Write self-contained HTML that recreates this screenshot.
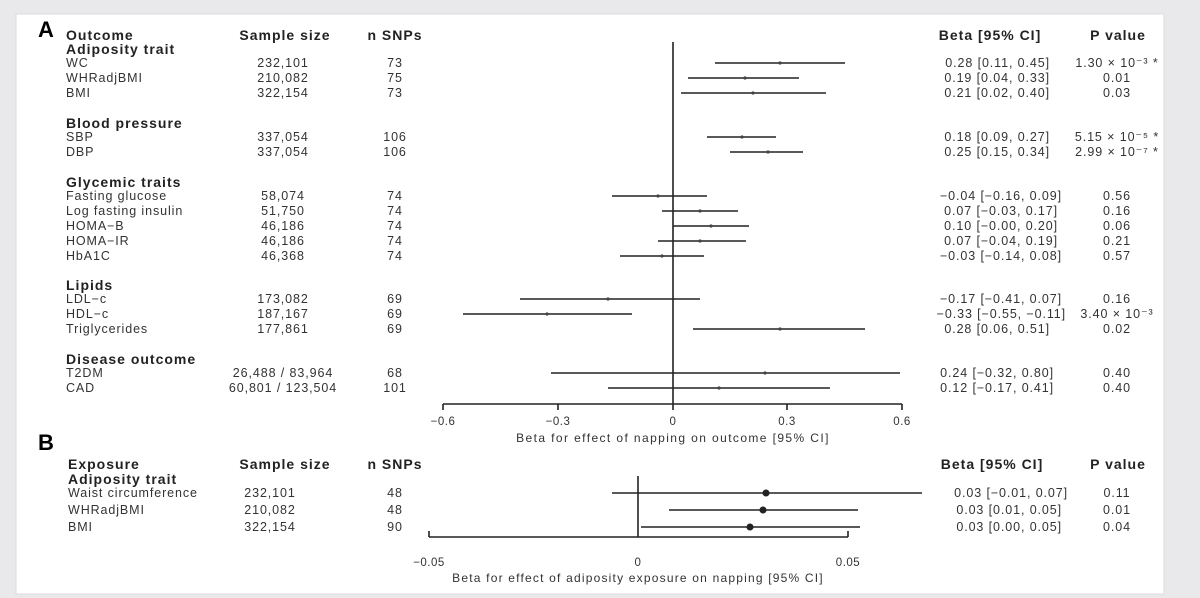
<!DOCTYPE html>
<html><head><meta charset="utf-8"><style>
html,body{margin:0;padding:0;background:#e9e9eb;}
svg{display:block;font-family:"Liberation Sans",sans-serif;}
.h{font-weight:bold;font-size:14px;fill:#222;letter-spacing:1px}
.t{font-size:12.5px;fill:#333;letter-spacing:0.9px}
.c{text-anchor:middle}
.e{text-anchor:end}
</style></head><body>
<svg width="1200" height="598" viewBox="0 0 1200 598">
<rect x="16" y="14" width="1148" height="580" fill="#fff" stroke="#dcdce0"/>
<g stroke="#222" stroke-width="1.6" fill="none">
<line x1="673" y1="42" x2="673" y2="404"/>
<line x1="443" y1="404" x2="902" y2="404"/>
<line x1="443" y1="404" x2="443" y2="410"/><line x1="558" y1="404" x2="558" y2="410"/><line x1="673" y1="404" x2="673" y2="410"/><line x1="787" y1="404" x2="787" y2="410"/><line x1="902" y1="404" x2="902" y2="410"/>
<line x1="715" y1="63" x2="845" y2="63"/>
<line x1="688" y1="78" x2="799" y2="78"/>
<line x1="681" y1="93" x2="826" y2="93"/>
<line x1="707" y1="137" x2="776" y2="137"/>
<line x1="730" y1="152" x2="803" y2="152"/>
<line x1="612" y1="196" x2="707" y2="196"/>
<line x1="662" y1="211" x2="738" y2="211"/>
<line x1="673" y1="226" x2="749" y2="226"/>
<line x1="658" y1="241" x2="746" y2="241"/>
<line x1="620" y1="256" x2="704" y2="256"/>
<line x1="520" y1="299" x2="700" y2="299"/>
<line x1="463" y1="314" x2="632" y2="314"/>
<line x1="693" y1="329" x2="865" y2="329"/>
<line x1="551" y1="373" x2="900" y2="373"/>
<line x1="608" y1="388" x2="830" y2="388"/>
<line x1="638" y1="476" x2="638" y2="537"/>
<line x1="429" y1="537" x2="848" y2="537"/>
<line x1="429" y1="531" x2="429" y2="537"/><line x1="848" y1="531" x2="848" y2="537"/>
<line x1="612" y1="493" x2="922" y2="493"/>
<line x1="669" y1="510" x2="858" y2="510"/>
<line x1="641" y1="527" x2="860" y2="527"/>
</g>
<g fill="#444">
<circle cx="780" cy="63" r="1.6"/><circle cx="745" cy="78" r="1.6"/><circle cx="753" cy="93" r="1.6"/>
<circle cx="742" cy="137" r="1.6"/><circle cx="768" cy="152" r="1.6"/>
<circle cx="658" cy="196" r="1.6"/><circle cx="700" cy="211" r="1.6"/><circle cx="711" cy="226" r="1.6"/><circle cx="700" cy="241" r="1.6"/><circle cx="662" cy="256" r="1.6"/>
<circle cx="608" cy="299" r="1.6"/><circle cx="547" cy="314" r="1.6"/><circle cx="780" cy="329" r="1.6"/>
<circle cx="765" cy="373" r="1.6"/><circle cx="719" cy="388" r="1.6"/>
<circle cx="766" cy="493" r="3.5" fill="#222"/><circle cx="763" cy="510" r="3.5" fill="#222"/><circle cx="750" cy="527" r="3.5" fill="#222"/>
</g>
<text x="38" y="37" style="font-size:22px;font-weight:bold">A</text>
<text x="38" y="450" style="font-size:22px;font-weight:bold">B</text>
<g class="h">
<text x="66" y="40">Outcome</text><text x="285" y="40" class="c">Sample size</text><text x="395" y="40" class="c">n SNPs</text><text x="990" y="40" class="c">Beta [95% CI]</text><text x="1118" y="40" class="c">P value</text>
<text x="66" y="54">Adiposity trait</text>
<text x="66" y="128">Blood pressure</text>
<text x="66" y="187">Glycemic traits</text>
<text x="66" y="290">Lipids</text>
<text x="66" y="364">Disease outcome</text>
<text x="68" y="469">Exposure</text><text x="285" y="469" class="c">Sample size</text><text x="395" y="469" class="c">n SNPs</text><text x="992" y="469" class="c">Beta [95% CI]</text><text x="1118" y="469" class="c">P value</text>
<text x="68" y="484">Adiposity trait</text>
</g>
<g class="t">
<text x="66" y="67">WC</text><text x="283" y="67" class="c">232,101</text><text x="395" y="67" class="c">73</text><text x="1050" y="67" class="e">0.28 [0.11, 0.45]</text><text x="1117" y="67" class="c">1.30 × 10⁻³ *</text>
<text x="66" y="82">WHRadjBMI</text><text x="283" y="82" class="c">210,082</text><text x="395" y="82" class="c">75</text><text x="1050" y="82" class="e">0.19 [0.04, 0.33]</text><text x="1117" y="82" class="c">0.01</text>
<text x="66" y="97">BMI</text><text x="283" y="97" class="c">322,154</text><text x="395" y="97" class="c">73</text><text x="1050" y="97" class="e">0.21 [0.02, 0.40]</text><text x="1117" y="97" class="c">0.03</text>
<text x="66" y="141">SBP</text><text x="283" y="141" class="c">337,054</text><text x="395" y="141" class="c">106</text><text x="1050" y="141" class="e">0.18 [0.09, 0.27]</text><text x="1117" y="141" class="c">5.15 × 10⁻⁵ *</text>
<text x="66" y="156">DBP</text><text x="283" y="156" class="c">337,054</text><text x="395" y="156" class="c">106</text><text x="1050" y="156" class="e">0.25 [0.15, 0.34]</text><text x="1117" y="156" class="c">2.99 × 10⁻⁷ *</text>
<text x="66" y="200">Fasting glucose</text><text x="283" y="200" class="c">58,074</text><text x="395" y="200" class="c">74</text><text x="1062" y="200" class="e">−0.04 [−0.16, 0.09]</text><text x="1117" y="200" class="c">0.56</text>
<text x="66" y="215">Log fasting insulin</text><text x="283" y="215" class="c">51,750</text><text x="395" y="215" class="c">74</text><text x="1058" y="215" class="e">0.07 [−0.03, 0.17]</text><text x="1117" y="215" class="c">0.16</text>
<text x="66" y="230">HOMA−B</text><text x="283" y="230" class="c">46,186</text><text x="395" y="230" class="c">74</text><text x="1058" y="230" class="e">0.10 [−0.00, 0.20]</text><text x="1117" y="230" class="c">0.06</text>
<text x="66" y="245">HOMA−IR</text><text x="283" y="245" class="c">46,186</text><text x="395" y="245" class="c">74</text><text x="1058" y="245" class="e">0.07 [−0.04, 0.19]</text><text x="1117" y="245" class="c">0.21</text>
<text x="66" y="260">HbA1C</text><text x="283" y="260" class="c">46,368</text><text x="395" y="260" class="c">74</text><text x="1062" y="260" class="e">−0.03 [−0.14, 0.08]</text><text x="1117" y="260" class="c">0.57</text>
<text x="66" y="303">LDL−c</text><text x="283" y="303" class="c">173,082</text><text x="395" y="303" class="c">69</text><text x="1062" y="303" class="e">−0.17 [−0.41, 0.07]</text><text x="1117" y="303" class="c">0.16</text>
<text x="66" y="318">HDL−c</text><text x="283" y="318" class="c">187,167</text><text x="395" y="318" class="c">69</text><text x="1066" y="318" class="e">−0.33 [−0.55, −0.11]</text><text x="1117" y="318" class="c">3.40 × 10⁻³</text>
<text x="66" y="333">Triglycerides</text><text x="283" y="333" class="c">177,861</text><text x="395" y="333" class="c">69</text><text x="1050" y="333" class="e">0.28 [0.06, 0.51]</text><text x="1117" y="333" class="c">0.02</text>
<text x="66" y="377">T2DM</text><text x="283" y="377" class="c">26,488 / 83,964</text><text x="395" y="377" class="c">68</text><text x="1054" y="377" class="e">0.24 [−0.32, 0.80]</text><text x="1117" y="377" class="c">0.40</text>
<text x="66" y="392">CAD</text><text x="283" y="392" class="c">60,801 / 123,504</text><text x="395" y="392" class="c">101</text><text x="1054" y="392" class="e">0.12 [−0.17, 0.41]</text><text x="1117" y="392" class="c">0.40</text>
<text x="68" y="497">Waist circumference</text><text x="270" y="497" class="c">232,101</text><text x="395" y="497" class="c">48</text><text x="1068" y="497" class="e">0.03 [−0.01, 0.07]</text><text x="1117" y="497" class="c">0.11</text>
<text x="68" y="514">WHRadjBMI</text><text x="270" y="514" class="c">210,082</text><text x="395" y="514" class="c">48</text><text x="1062" y="514" class="e">0.03 [0.01, 0.05]</text><text x="1117" y="514" class="c">0.01</text>
<text x="68" y="531">BMI</text><text x="270" y="531" class="c">322,154</text><text x="395" y="531" class="c">90</text><text x="1062" y="531" class="e">0.03 [0.00, 0.05]</text><text x="1117" y="531" class="c">0.04</text>
<g style="font-size:11.5px;letter-spacing:0.5px">
<text x="443" y="425" class="c">−0.6</text><text x="558" y="425" class="c">−0.3</text><text x="673" y="425" class="c">0</text><text x="787" y="425" class="c">0.3</text><text x="902" y="425" class="c">0.6</text>
<text x="429" y="566" class="c">−0.05</text><text x="638" y="566" class="c">0</text><text x="848" y="566" class="c">0.05</text>
</g>
<text x="673" y="442" class="c" style="font-size:12px;letter-spacing:1.4px">Beta for effect of napping on outcome [95% CI]</text>
<text x="638" y="582" class="c" style="font-size:12px;letter-spacing:1.2px">Beta for effect of adiposity exposure on napping [95% CI]</text>
</g>
</svg>
</body></html>
